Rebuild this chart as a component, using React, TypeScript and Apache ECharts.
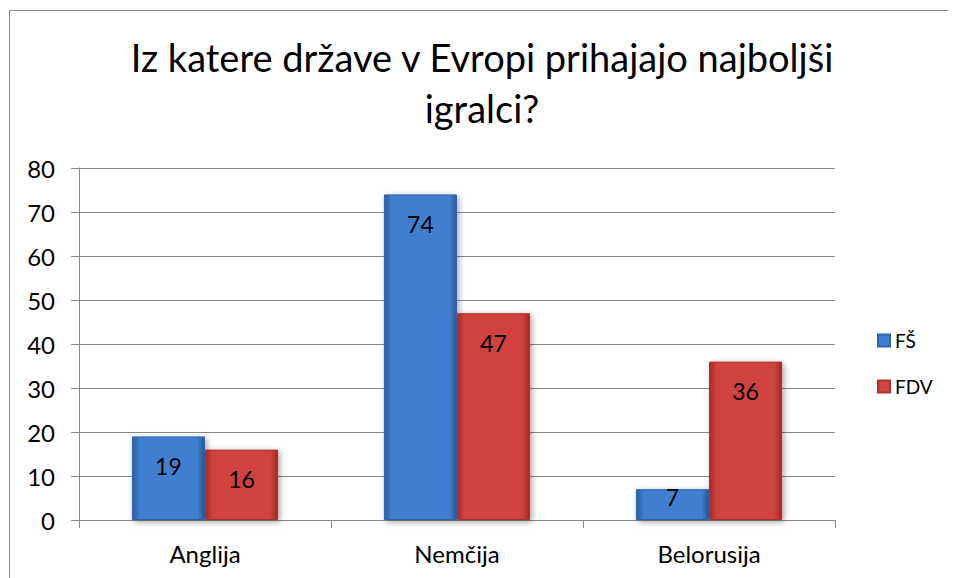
import React, { useEffect, useRef } from "react";
import * as echarts from "echarts";

const titleText = "Iz katere države v Evropi prihajajo najboljši\nigralci?";
const categories = ["Anglija", "Nemčija", "Belorusija"];
const seriesNames = ["FŠ", "FDV"];
const fsValues = [19, 74, 7];
const fdvValues = [16, 47, 36];
const yTicks = { min: 0, max: 80, interval: 10 };

const FONT = "Lato, 'Open Sans', sans-serif";

function grad(edge: string, mid: string, edge2: string) {
  return new echarts.graphic.LinearGradient(0, 0, 1, 0, [
    { offset: 0, color: edge },
    { offset: 0.1, color: mid },
    { offset: 0.9, color: mid },
    { offset: 1, color: edge2 },
  ]);
}

export default function App() {
  const ref = useRef<HTMLDivElement>(null);
  useEffect(() => {
    if (!ref.current) return;
    const chart = echarts.init(ref.current, undefined, { renderer: "svg" });
    const labelBase = {
      show: true,
      position: "insideTop" as const,
      distance: 18,
      color: "#000",
      fontSize: 23,
      fontFamily: FONT,
    };
    const mkData = (vals: number[]) =>
      vals.map((v) =>
        v < 12 ? { value: v, label: { distance: -4 } } : { value: v }
      );
    chart.setOption({
      animation: false,
      backgroundColor: "#fff",
      title: {
        text: titleText,
        left: "center",
        top: 18,
        textStyle: {
          fontFamily: FONT,
          fontSize: 38,
          fontWeight: "normal",
          color: "#000",
          lineHeight: 51,
        },
      },
      legend: {
        orient: "vertical",
        left: 864,
        top: 318,
        itemWidth: 12,
        itemHeight: 12,
        itemGap: 27,
        icon: "rect",
        textStyle: { fontFamily: FONT, fontSize: 19, color: "#000" },
        data: seriesNames,
      },
      graphic: [
        {
          type: "line",
          shape: { x1: 1.5, y1: 2.5, x2: 960, y2: 2.5 },
          style: { stroke: "#8c8c8c", lineWidth: 1 },
        },
        {
          type: "line",
          shape: { x1: 1.5, y1: 2.5, x2: 1.5, y2: 580 },
          style: { stroke: "#8c8c8c", lineWidth: 1 },
        },
      ],
      grid: { left: 71, right: 121, top: 160, bottom: 58 },
      xAxis: {
        type: "category",
        data: categories,
        axisLine: { lineStyle: { color: "#888", width: 1 } },
        axisTick: { show: true, length: 8, lineStyle: { color: "#888" } },
        axisLabel: {
          color: "#000",
          fontSize: 24,
          fontFamily: FONT,
          margin: 21,
        },
      },
      yAxis: {
        type: "value",
        min: yTicks.min,
        max: yTicks.max,
        interval: yTicks.interval,
        axisLine: { show: true, lineStyle: { color: "#888", width: 1 } },
        axisTick: { show: true, length: 8, lineStyle: { color: "#888" } },
        axisLabel: {
          color: "#000",
          fontSize: 24,
          fontFamily: FONT,
          margin: 24,
        },
        splitLine: { lineStyle: { color: "#888", width: 1 } },
      },
      series: [
        {
          name: seriesNames[0],
          type: "bar",
          data: mkData(fsValues),
          barGap: "0%",
          barCategoryGap: "42%",
          itemStyle: {
            color: grad("#2a5d9f", "#3f7fcf", "#2b5a96"),
            borderColor: "#2f65aa",
            borderWidth: 1,
            shadowColor: "rgba(0,0,0,0.35)",
            shadowBlur: 6,
            shadowOffsetX: 2,
            shadowOffsetY: 2,
          },
          label: labelBase,
        },
        {
          name: seriesNames[1],
          type: "bar",
          data: mkData(fdvValues),
          barGap: "0%",
          barCategoryGap: "42%",
          itemStyle: {
            color: grad("#a52a26", "#d0433e", "#a02824"),
            borderColor: "#ad302c",
            borderWidth: 1,
            shadowColor: "rgba(0,0,0,0.35)",
            shadowBlur: 6,
            shadowOffsetX: 2,
            shadowOffsetY: 2,
          },
          label: labelBase,
        },
      ],
    });
    return () => chart.dispose();
  }, []);
  return <div ref={ref} style={{ width: 948, height: 570 }} />;
}
